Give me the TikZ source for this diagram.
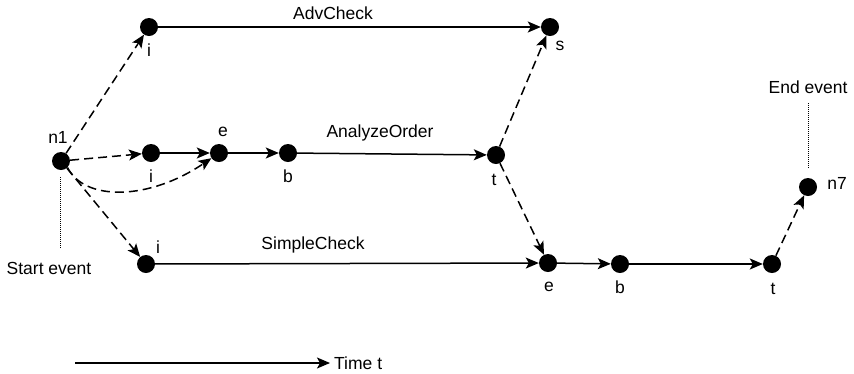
\documentclass[tikz,border=0pt]{standalone}
\usepackage{fontspec}
\setmainfont{Liberation Sans}
\usetikzlibrary{arrows.meta}
\begin{document}
\begin{tikzpicture}[x=1pt,y=-1pt,
  dot/.style={circle,fill=black,inner sep=0pt,minimum size=18pt},
  lbl/.style={font=\fontsize{17.5}{19}\selectfont,inner sep=0pt},
  arr/.style={line width=1.5pt,-{Stealth[length=13pt,width=11pt,inset=3pt]}},
  dsh/.style={arr,dash pattern=on 9pt off 5pt},
  dotl/.style={line width=1pt,dash pattern=on 1pt off 1pt}]
\useasboundingbox (0,0) rectangle (854,373);
% dots
\node[dot] (n1) at (61,161) {};
\node[dot] (ai) at (149,27) {};
\node[dot] (as) at (550,27) {};
\node[dot] (mi) at (151,153) {};
\node[dot] (me) at (219,153) {};
\node[dot] (mb) at (288,153) {};
\node[dot] (mt) at (496,155) {};
\node[dot] (bi) at (146,264) {};
\node[dot] (be) at (548,263) {};
\node[dot] (bb) at (620,264) {};
\node[dot] (bt) at (772,264) {};
\node[dot] (n7) at (808,187) {};
% labels
\node[lbl] (ln1) at (58,137) {n1};
\node[lbl] (lai) at (149,50) {i};
\node[lbl] (las) at (560,46) {s};
\node[lbl] (ladv) at (333,13) {AdvCheck};
\node[lbl] (lmi) at (151,176) {i};
\node[lbl] (lme) at (223,132) {e};
\node[lbl] (lmb) at (288,176) {b};
\node[lbl] (lmt) at (494,180) {t};
\node[lbl] (lao) at (380,133) {AnalyzeOrder};
\node[lbl] (lbi) at (158,247) {i};
\node[lbl] (lsc) at (313,245) {SimpleCheck};
\node[lbl] (lbe) at (549,287) {e};
\node[lbl] (lbb) at (620,287) {b};
\node[lbl] (lbt) at (773,289) {t};
\node[lbl] (ln7) at (837,183) {n7};
\node[lbl] (lend) at (808,87) {End event};
\node[lbl] (lstart) at (49,268) {Start event};
\node[lbl,anchor=west] (ltime) at (334,363) {Time t};
% dotted markers
\coordinate (s1) at (60,177);
\coordinate (s2) at (60,248);
\draw[dotl] (s1) -- (s2);
\coordinate (e1) at (808,103);
\coordinate (e2) at (808,168);
\draw[dotl] (e1) -- (e2);
% time axis
\coordinate (t0) at (75,363);
\draw[arr,shorten >=4pt] (t0) -- (ltime.west);
% solid edges
\draw[arr] (ai) -- (as);
\draw[arr] (mi) -- (me);
\draw[arr] (me) -- (mb);
\draw[arr] (mb) -- (mt);
\draw[arr] (bi) -- (be);
\draw[arr] (be) -- (bb);
\draw[arr] (bb) -- (bt);
% dashed edges
\draw[dsh] (n1) -- (ai);
\draw[dsh] (n1) -- (mi);
\draw[dsh] (n1) -- (bi);
\draw[dsh] (n1.south east) .. controls (85,202) and (150,200) .. (me);
\draw[dsh] (mt) -- (as);
\draw[dsh] (mt) -- (be);
\draw[dsh] (bt) -- (n7);
\end{tikzpicture}
\end{document}
